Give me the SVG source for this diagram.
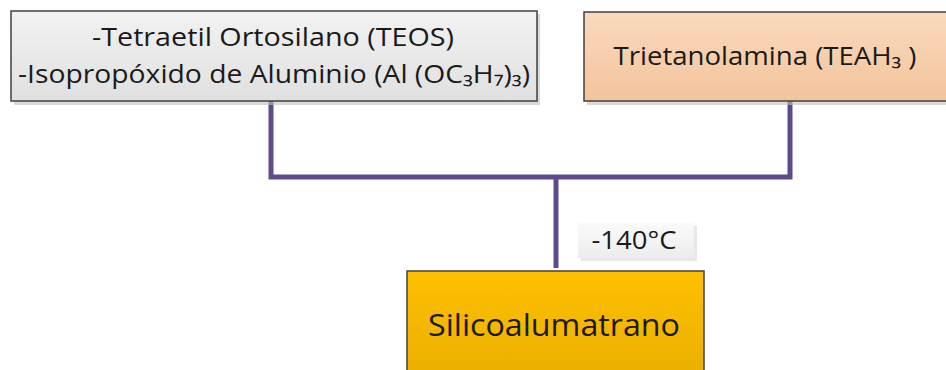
<svg xmlns="http://www.w3.org/2000/svg" width="946" height="370" viewBox="0 0 946 370">
<defs>
<linearGradient id="gGray" x1="0" y1="0" x2="0" y2="1"><stop offset="0" stop-color="#f2f2f2"/><stop offset="1" stop-color="#e0e0e0"/></linearGradient>
<linearGradient id="gPeach" x1="0" y1="0" x2="0" y2="1"><stop offset="0" stop-color="#fad9bd"/><stop offset="1" stop-color="#f3c49c"/></linearGradient>
<linearGradient id="gGold" x1="0" y1="0" x2="0" y2="1"><stop offset="0" stop-color="#ffc000"/><stop offset="1" stop-color="#eaae00"/></linearGradient>
<linearGradient id="gLabel" x1="0" y1="0" x2="0" y2="1"><stop offset="0" stop-color="#fafafa"/><stop offset="1" stop-color="#ececec"/></linearGradient>
</defs>
<style>
.box{stroke:#404040;stroke-width:1.5}
.shadow{fill:#bfbfbf;opacity:0.6}
.t{font-family:"Open Sans","Liberation Sans",sans-serif;fill:#1a1a1a;text-anchor:middle}
.conn{fill:none;stroke:#5f4b8b;stroke-width:5;stroke-linejoin:miter}
</style>
<rect width="946" height="370" fill="#ffffff"/>
<g id="connectors">
<polyline class="conn" points="271,101 271,177 790,177 790,101"/>
<line class="conn" x1="556" y1="177" x2="556" y2="268"/>
</g>
<g id="node-reactivos">
<rect class="shadow" x="14" y="14" width="526" height="91"/>
<rect class="box" x="11" y="11" width="526" height="90" fill="url(#gGray)"/>
<text class="t" x="273" y="46" font-size="26" textLength="362" lengthAdjust="spacingAndGlyphs">-Tetraetil Ortosilano (TEOS)</text>
<text class="t" x="274" y="83" font-size="26" textLength="512" lengthAdjust="spacingAndGlyphs">-Isopropóxido de Aluminio (Al (OC₃H₇)₃)</text>
</g>
<g id="node-teah">
<rect class="shadow" x="587" y="15" width="362" height="90"/>
<rect class="box" x="584" y="12" width="366" height="89" fill="url(#gPeach)"/>
<text class="t" x="765" y="65" font-size="26" textLength="303" lengthAdjust="spacingAndGlyphs">Trietanolamina (TEAH₃ )</text>
</g>
<g id="label-temp">
<rect x="581" y="226" width="116" height="35" fill="#d9d9d9" opacity="0.6"/>
<rect x="578" y="223" width="116" height="35" fill="url(#gLabel)"/>
<text class="t" x="634" y="249" font-size="26" textLength="85" lengthAdjust="spacingAndGlyphs">-140°C</text>
</g>
<g id="node-silicoalumatrano">
<rect class="box" x="407" y="271" width="297" height="110" fill="url(#gGold)"/>
<text class="t" x="554" y="336" font-size="31" textLength="252" lengthAdjust="spacingAndGlyphs">Silicoalumatrano</text>
</g>
</svg>
